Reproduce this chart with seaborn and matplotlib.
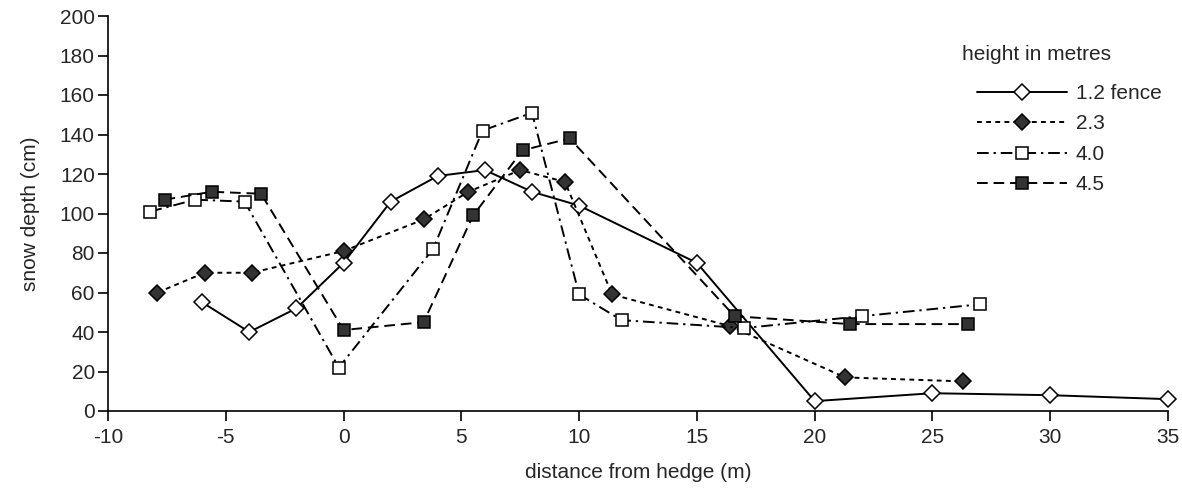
import pandas as pd
import seaborn as sns
import matplotlib.pyplot as plt

# snow depth profiles across a hedge
x_fence = [-6, -4, -2, 0, 2, 4, 6, 8, 10, 15, 20, 25, 30, 35]
y_fence = [55, 40, 52, 75, 106, 119, 122, 111, 104, 75, 5, 9, 8, 6]

x_23 = [-7.9, -5.9, -3.9, 0, 3.4, 5.3, 7.5, 9.4, 11.4, 16.4, 21.3, 26.3]
y_23 = [60, 70, 70, 81, 97, 111, 122, 116, 59, 43, 17, 15]

x_40 = [-8.2, -6.3, -4.2, -0.2, 3.8, 5.9, 8.0, 10.0, 11.8, 17.0, 22.0, 27.0]
y_40 = [101, 107, 106, 22, 82, 142, 151, 59, 46, 42, 48, 54]

x_45 = [-7.6, -5.6, -3.5, 0, 3.4, 5.5, 7.6, 9.6, 16.6, 21.5, 26.5]
y_45 = [107, 111, 110, 41, 45, 99, 132, 138, 48, 44, 44]

labels = ['1.2 fence', '2.3', '4.0', '4.5']

sns.set_style('ticks')
plt.rcParams['font.family'] = ['Liberation Sans', 'DejaVu Sans']
plt.rcParams['axes.unicode_minus'] = False

fig = plt.figure(figsize=(11.82, 4.92), dpi=100)
ax = fig.add_axes([108 / 1182, 81 / 492, 1060 / 1182, 395 / 492])

series = [
    (x_fence, y_fence, '-', 'D', 'white', 8.5),
    (x_23, y_23, (0, (2.5, 2.2)), 'D', '#333333', 8.5),
    (x_40, y_40, (0, (6, 2.5, 1.2, 2.5)), 's', 'white', 9),
    (x_45, y_45, (0, (5.5, 3)), 's', '#333333', 8.5),
]
for (xs, ys, ls, mk, fc, ms), lab in zip(series, labels):
    df = pd.DataFrame({'x': xs, 'y': ys})
    sns.lineplot(data=df, x='x', y='y', ax=ax, color='black', linestyle=ls,
                 linewidth=1.4, marker=mk, markersize=ms, markerfacecolor=fc,
                 markeredgecolor='black', markeredgewidth=1.1, label=lab,
                 errorbar=None)

ax.set_xlim(-10, 35)
ax.set_ylim(0, 200)
ax.set_xticks(range(-10, 36, 5))
ax.set_yticks(range(0, 201, 20))
ax.tick_params(axis='both', labelsize=15, length=7.5, width=1.2, color='black', pad=2)
ax.tick_params(axis='x', pad=5)
for s in ['top', 'right']:
    ax.spines[s].set_visible(False)
for s in ['left', 'bottom']:
    ax.spines[s].set_linewidth(1.2)
    ax.spines[s].set_color('black')
ax.set_xlabel('distance from hedge (m)', fontsize=15, labelpad=11)
ax.set_ylabel('snow depth (cm)', fontsize=15, labelpad=14)
for ln in ax.lines:
    ln.set_clip_on(False)

fig.text(962 / 1182, 1 - 55 / 492, 'height in metres', fontsize=15, va='center', ha='left')
ax.legend(loc='upper left', bbox_to_anchor=(977 / 1182, 1 - 84 / 492),
          bbox_transform=fig.transFigure, frameon=False, fontsize=15,
          handlelength=4.3, handletextpad=0.45, labelspacing=0.55, borderpad=0,
          borderaxespad=0)

fig.savefig('out.png', dpi=100)
